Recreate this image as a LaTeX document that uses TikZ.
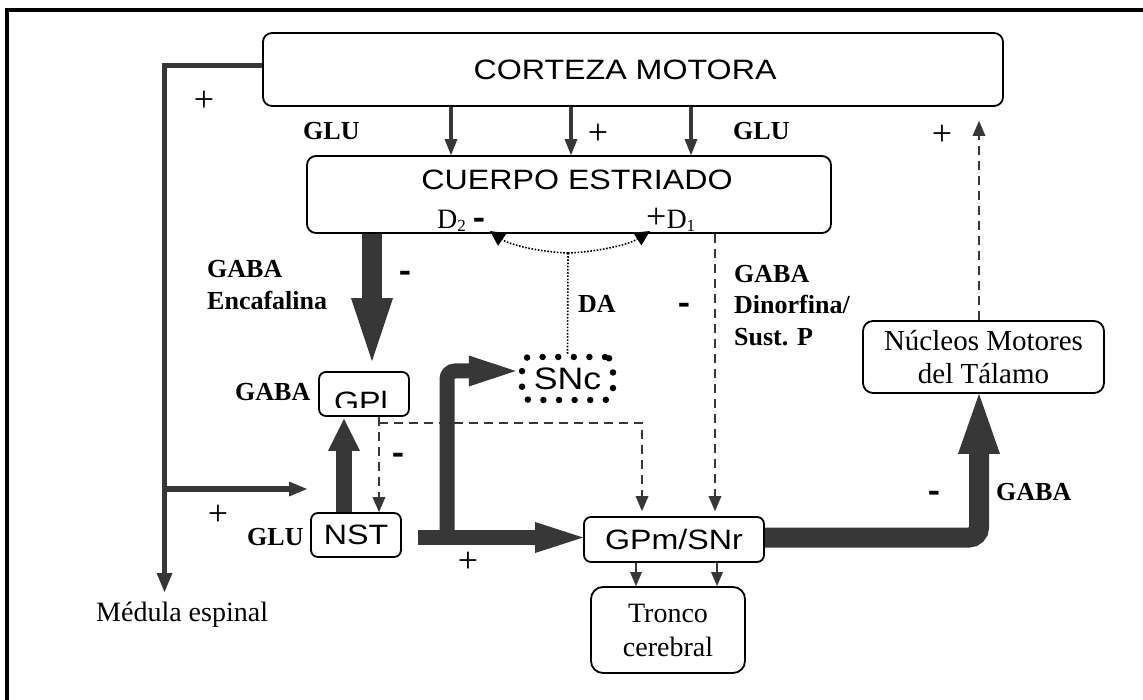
\documentclass[tikz,border=0pt]{standalone}
\usepackage{fontspec}
\setmainfont{Liberation Serif}
\newfontfamily\sansw[FakeStretch=1.15]{Liberation Sans}
\usetikzlibrary{arrows.meta}
\definecolor{conn}{RGB}{55,55,55}
\newcommand\bxfont{\sansw\fontsize{28}{32}\selectfont}
\newcommand\rmlabel{\fontsize{28}{34}\selectfont}
\newcommand\bdlabel{\bfseries\fontsize{26}{30}\selectfont}
\newcommand\plusfont{\fontsize{36}{36}\selectfont}
\newcommand\minusfont{\sansw\bfseries\fontsize{32}{32}\selectfont}
\newcommand\sbs[1]{\raisebox{-3pt}{\fontsize{17}{17}\selectfont #1}}

\begin{document}
\begin{tikzpicture}[x=1pt, y=-1pt,
  box/.style={draw, line width=1.8pt, rounded corners=9pt, inner sep=0pt,
    fill=white, font=\bxfont, text depth=0pt},
  tbox/.style={draw, line width=1.8pt, rounded corners=12pt, inner sep=0pt,
    fill=white, align=center, font=\rmlabel},
  arr/.style={draw=conn, line width=4pt,
    -{Triangle[width=13pt,length=16pt,line width=0pt]}},
  tinyarr/.style={draw=conn, line width=2.5pt,
    -{Triangle[width=12pt,length=14pt,line width=0pt]}},
  dsh/.style={draw=conn, line width=2pt, dash pattern=on 9pt off 6pt,
    -{Triangle[width=13pt,length=15pt,line width=0pt]}},
  dotln/.style={draw=black, line width=1.6pt, dash pattern=on 1.6pt off 1.6pt},
  dotarr/.style={dotln, -{Triangle[width=15pt,length=15pt,line width=0pt]}},
  lbl/.style={inner sep=0pt, anchor=base west},
  blbl/.style={lbl, font=\bdlabel},
  sgnp/.style={inner sep=0pt, font=\plusfont},
  sgnm/.style={inner sep=0pt, font=\minusfont, yshift=-3.5pt},
]
\useasboundingbox (0,0) rectangle (1143,700);

% frame
\draw[line width=3.5pt] (7,700) -- (7,10) -- (1143,10);

% boxes
\node[box, minimum width=740pt, minimum height=73pt] (ctx) at (633,69.5)
  {CORTEZA MOTORA\hspace*{16pt}};
\node[box, minimum width=524pt, minimum height=77pt] (str) at (569,194.5) {};
\node[inner sep=0pt, font=\bxfont, anchor=base] (strtxt) at (577,190) {CUERPO ESTRIADO};
\node[lbl, font=\rmlabel] (d2) at (437,229) {D\sbs{2} {\minusfont -}};
\node[lbl, font=\rmlabel] (d1) at (646,229) {{\plusfont +}D\sbs{1}};

\node[box, minimum width=90pt, minimum height=44pt, rounded corners=7pt] (gpi) at (364,394) {};
\begin{scope}
  \clip (320,373) rectangle (408,407);
  \node[inner sep=0pt, font=\bxfont, anchor=base] (gpitxt) at (361,411) {GPl};
\end{scope}
\node[box, minimum width=90pt, minimum height=44pt, rounded corners=7pt] (nst) at (356,535) {NST};
\node[minimum width=91pt, minimum height=43pt, inner sep=0pt,
  font=\sansw\fontsize{31}{34}\selectfont, text depth=0pt,
  draw, line width=6.5pt, line cap=round, dash pattern=on 0pt off 15.6pt,
  rounded corners=8pt] (snc) at (567.5,378.5) {SNc};
\node[box, minimum width=180pt, minimum height=45pt, rounded corners=7pt] (gpm) at (674,539.5) {GPm/SNr};
\node[tbox, minimum width=154pt, minimum height=86pt] (tronco) at (668,630) {Tronco\\cerebral};
\node[tbox, minimum width=241pt, minimum height=72pt, rounded corners=10pt,
  font=\fontsize{29}{33}\selectfont] (nuc) at (983.5,357) {Núcleos Motores\\del Tálamo};
\node[lbl, font=\rmlabel] (med) at (96,621) {Médula espinal};

% reference columns and rows
\coordinate (cA) at (451,0);
\coordinate (cB) at (571,0);
\coordinate (cC) at (691,0);
\coordinate (cBig) at (372,0);
\coordinate (cUp) at (344,0);
\coordinate (cDn) at (379,0);
\coordinate (cBr) at (642,0);
\coordinate (cD1) at (715,0);
\coordinate (cTh) at (979,0);
\coordinate (cT1) at (636,0);
\coordinate (cT2) at (717,0);
\coordinate (cV) at (447,0);
\coordinate (rowA) at (0,537.5);
\coordinate (gj) at (379,423);
\coordinate (da) at (568,253);
\coordinate (d2tip) at (490,231);
\coordinate (d1tip) at (650,231);
\coordinate (medtip) at (164.5,592);
\coordinate (brstart) at (164.5,489);
\coordinate (brtip) at (307,489);

% cortex to spinal cord, with branch
\draw[draw=conn, line width=5.5pt, -{Triangle[width=16pt,length=19pt,line width=0pt]}]
  ([yshift=4pt]ctx.west) -| (medtip);
\draw[draw=conn, line width=5.5pt, -{Triangle[width=15pt,length=18pt,line width=0pt]}]
  (brstart) -- (brtip);

% cortex to striatum
\draw[arr] (ctx.south -| cA) -- (str.north -| cA);
\draw[arr] (ctx.south -| cB) -- (str.north -| cB);
\draw[arr] (ctx.south -| cC) -- (str.north -| cC);

% striatum to GPl (indirect)
\draw[draw=conn, line width=20pt, shorten >=10pt,
  -{Triangle[width=42pt,length=63pt,line width=0pt]}] (str.south -| cBig) -- (gpi.north -| cBig);

% NST to GPl
\draw[draw=conn, line width=16pt, shorten >=2pt,
  -{Triangle[width=32pt,length=32pt,line width=0pt]}] (nst.north -| cUp) -- (gpi.south -| cUp);

% GPl to NST and GPm (dashed)
\draw[dsh] (gpi.south -| cDn) -- (nst.north -| cDn);
\draw[dsh, shorten >=5pt] (gj) -| (gpm.north -| cBr);

% striatum to GPm (direct, dashed)
\draw[dsh, shorten >=5pt] (str.south -| cD1) -- (gpm.north -| cD1);

% NST to GPm and SNc
\draw[draw=conn, line width=15.5pt, shorten <=16pt,
  -{Triangle[width=31pt,length=48pt,line width=0pt]}] (nst.east |- rowA) -- (gpm.west |- rowA);
\draw[draw=conn, line width=15pt, rounded corners=8pt, shorten >=3pt,
  -{Triangle[width=31pt,length=47pt,line width=0pt]}] (cV |- rowA) |- ([yshift=7.5pt]snc.west);

% GPm to thalamus
\draw[draw=conn, line width=20pt, rounded corners=10pt,
  -{Triangle[width=42pt,length=60pt,line width=0pt]}] (gpm.east |- rowA) -| (nuc.south -| cTh);

% thalamus to cortex (dashed)
\draw[dsh, shorten >=14pt] (nuc.north -| cTh) -- (ctx.south -| cTh);

% GPm to brainstem
\draw[tinyarr] (gpm.south -| cT1) -- (tronco.north -| cT1);
\draw[tinyarr] (gpm.south -| cT2) -- (tronco.north -| cT2);

% dopamine from SNc to striatum
\draw[dotln] (snc.north) -- (da);
\draw[dotarr] (da) .. controls (540,252) and (510,245) .. (d2tip);
\draw[dotarr] (da) .. controls (596,252) and (628,245) .. (d1tip);

% signs
\node[sgnp] (p1) at (204,101) {+};
\node[sgnp] (p2) at (598,134) {+};
\node[sgnp] (p3) at (942,135) {+};
\node[sgnp] (p4) at (218,515) {+};
\node[sgnp] (p5) at (468,562) {+};
\node[sgnm] (m1) at (405,273) {-};
\node[sgnm] (m2) at (684,305) {-};
\node[sgnm] (m3) at (398,455) {-};
\node[sgnm] (m4) at (934,493) {-};

% transmitter labels
\node[blbl] (gluA) at (303,140) {GLU};
\node[blbl] (gluB) at (733,140) {GLU};
\node[blbl] (gabaE1) at (207,278) {GABA};
\node[blbl] (gabaE2) at (207,310) {Encafalina};
\node[blbl] (gabaD1) at (734,283) {GABA};
\node[blbl] (gabaD2) at (734,314) {Dinorfina/};
\node[blbl] (gabaD3) at (734,346) {Sust. P};
\node[blbl] (dalbl) at (578,313) {DA};
\node[blbl] (gabaG) at (235,400) {GABA};
\node[blbl] (gluN) at (247,545) {GLU};
\node[blbl] (gabaT) at (996,500) {GABA};
\end{tikzpicture}
\end{document}
